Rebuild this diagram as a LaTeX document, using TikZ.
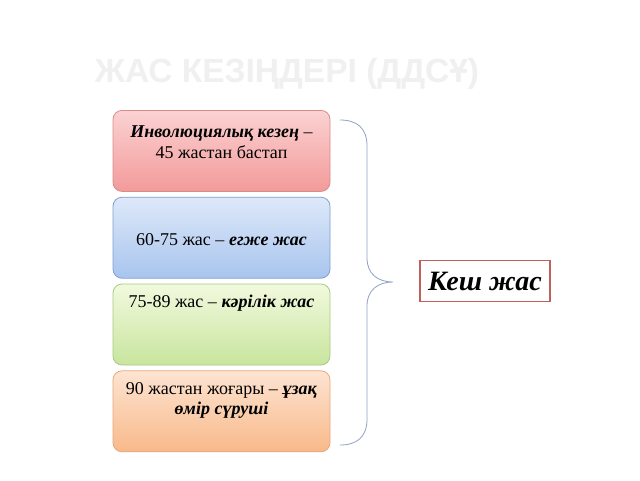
\documentclass[tikz,border=0pt]{standalone}
\usepackage{fontspec}
\setmainfont{Liberation Serif}
\newfontfamily\titlefont{Liberation Sans}
\usetikzlibrary{positioning}

\definecolor{pinktop}{HTML}{FBD2D2}
\definecolor{pinkbot}{HTML}{F39A9A}
\definecolor{pinkline}{HTML}{D98C8C}
\definecolor{bluetop}{HTML}{DEE9F9}
\definecolor{bluebot}{HTML}{A8C4EE}
\definecolor{blueline}{HTML}{7E9FD1}
\definecolor{greentop}{HTML}{F2F9DE}
\definecolor{greenbot}{HTML}{C8E59E}
\definecolor{greenline}{HTML}{A9CB82}
\definecolor{peachtop}{HTML}{FDE4D2}
\definecolor{peachbot}{HTML}{F8B98A}
\definecolor{peachline}{HTML}{EBA77A}
\definecolor{braceline}{HTML}{8FA2C4}
\definecolor{lateline}{HTML}{C0605D}
\definecolor{titlegray}{HTML}{F0F0F0}

\begin{document}
\begin{tikzpicture}[x=1pt, y=-1pt, node distance=5pt]
  \tikzset{agebox/.style={rectangle, rounded corners=9pt, draw, line width=0.8pt,
      minimum width=217pt, minimum height=81pt, inner sep=0pt},
    agetext/.style={align=center, font=\fontsize{18}{20.5}\selectfont, inner sep=0pt}}
  \useasboundingbox[fill=white] (0,0) rectangle (640,480);

  \node[font=\titlefont\bfseries\fontsize{33.5}{36}\selectfont, text=titlegray] (title) at (287,74) {ЖАС КЕЗІҢДЕРІ (ДДСҰ)};

  % the four age stages
  \node[agebox, draw=pinkline, top color=pinktop, bottom color=pinkbot, anchor=north] (b1) at (221.5,110) {};
  \node[agebox, draw=blueline, top color=bluetop, bottom color=bluebot, below=of b1] (b2) {};
  \node[agebox, draw=greenline, top color=greentop, bottom color=greenbot, below=of b2] (b3) {};
  \node[agebox, draw=peachline, top color=peachtop, bottom color=peachbot, below=of b3] (b4) {};

  \node[agetext] (t1) at ([yshift=-32pt]b1.north) {\textbf{\textit{Инволюциялық кезең}} –\\45 жастан бастап};
  \node[agetext] (t2) at ([yshift=-2pt]b2.center) {60-75 жас – \textbf{\textit{егже жас}}};
  \node[agetext] (t3) at ([yshift=-20pt]b3.north) {75-89 жас – \textbf{\textit{кәрілік жас}}};
  \node[agetext] (t4) at ([yshift=-30pt]b4.north) {90 жастан жоғары – \textbf{\textit{ұзақ}}\\\textbf{\textit{өмір сүруші}}};

  % brace and the late age box
  \coordinate (bt) at (340,120);
  \coordinate (bm) at (393,282);
  \coordinate (bb) at (340,445);
  \draw[braceline, line width=0.8pt] (bt) .. controls (357,120) and (367,128) .. (367,146)
    -- (367,258) .. controls (367,274) and (378,282) .. (bm)
    .. controls (378,282) and (367,290) .. (367,306)
    -- (367,419) .. controls (367,437) and (357,445) .. (bb);

  \node[draw=lateline, line width=1.6pt, minimum width=130pt, minimum height=41pt, inner sep=0pt,
    font=\fontsize{28}{30}\selectfont\bfseries\itshape] (late) at (485,281) {Кеш жас};
\end{tikzpicture}
\end{document}
